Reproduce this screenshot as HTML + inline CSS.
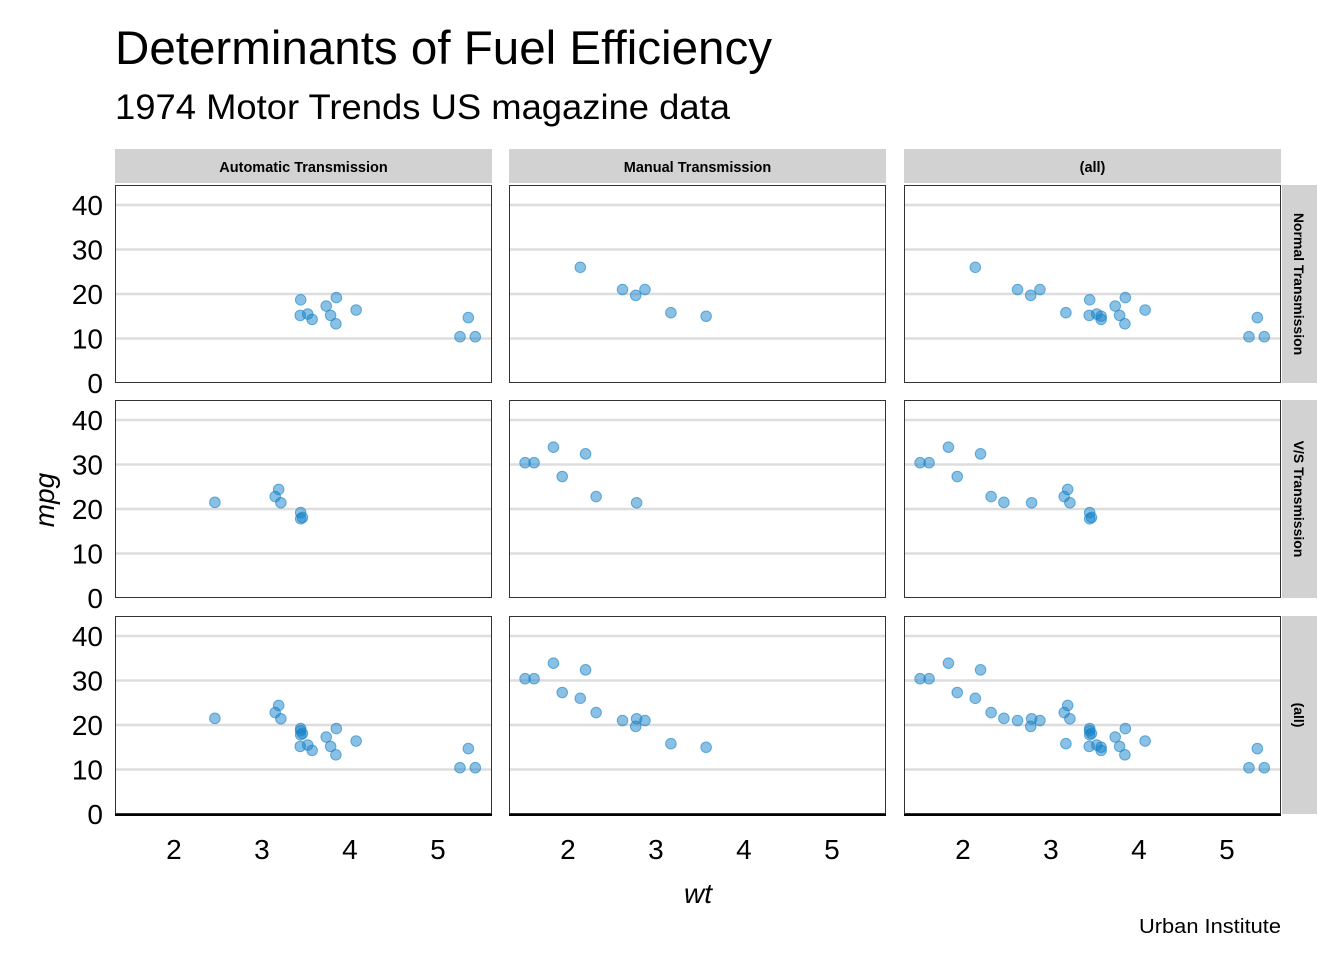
<!DOCTYPE html>
<html><head><meta charset="utf-8">
<style>
body{margin:0;background:#fff;font-family:"Liberation Sans",sans-serif;}
svg text{font-family:"Liberation Sans",sans-serif;}
</style></head>
<body>
<svg id="chart" width="1344" height="960">
<text x="115" y="64" font-size="47" textLength="657" lengthAdjust="spacingAndGlyphs" fill="#000">Determinants of Fuel Efficiency</text>
<text x="115" y="119" font-size="35" textLength="615" lengthAdjust="spacingAndGlyphs" fill="#000">1974 Motor Trends US magazine data</text>
<text x="1281" y="933" font-size="20" textLength="142" lengthAdjust="spacingAndGlyphs" text-anchor="end" fill="#000">Urban Institute</text>
<text x="698" y="903" font-size="28" font-style="italic" text-anchor="middle">wt</text>
<text transform="translate(54,500) rotate(-90)" font-size="28" font-style="italic" text-anchor="middle">mpg</text>
<g id="plots"></g>
</svg>
<script>
const wt  = [2.620,2.875,2.320,3.215,3.440,3.460,3.570,3.190,3.150,3.440,3.440,4.070,3.730,3.780,5.250,5.424,5.345,2.200,1.615,1.835,2.465,3.520,3.435,3.840,3.845,1.935,2.140,1.513,3.170,2.770,3.570,2.780];
const mpg = [21.0,21.0,22.8,21.4,18.7,18.1,14.3,24.4,22.8,19.2,17.8,16.4,17.3,15.2,10.4,10.4,14.7,32.4,30.4,33.9,21.5,15.5,15.2,13.3,19.2,27.3,26.0,30.4,15.8,19.7,15.0,21.4];
const vs  = [0,0,1,1,0,1,0,1,1,1,1,0,0,0,0,0,0,1,1,1,1,0,0,0,0,1,0,1,0,0,0,1];
const am  = [1,1,1,0,0,0,0,0,0,0,0,0,0,0,0,0,0,1,1,1,0,0,0,0,0,1,1,1,1,1,1,1];
const colLabels = ["Automatic Transmission","Manual Transmission","(all)"];
const rowLabels = ["Normal Transmission","V/S Transmission","(all)"];
const xTicks = [2,3,4,5];
const yTicks = [0,10,20,30,40];

const NS="http://www.w3.org/2000/svg";
const g=document.getElementById('plots');
function mk(tag,attrs,parent){const e=document.createElementNS(NS,tag);for(const k in attrs)e.setAttribute(k,attrs[k]);(parent||g).appendChild(e);return e;}
const colX=[115,509,904], rowY=[185,400,616], PW=377, PH=198;
const xMin=1.33,xMax=5.614,yMin=0,yMax=44.5;
function sx(c,v){return colX[c]+(v-xMin)/(xMax-xMin)*PW;}
function sy(r,v){return rowY[r]+PH-(v-yMin)/(yMax-yMin)*PH;}

for(let c=0;c<3;c++){
  const s=mk('rect',{x:colX[c],y:149,width:PW,height:34,fill:'#d2d2d2'});
  
  
  const t=mk('text',{x:colX[c]+PW/2,y:172,'font-size':14.5,'font-weight':'bold','text-anchor':'middle',fill:'#000'});
  t.textContent=colLabels[c];
  
  
}
for(let r=0;r<3;r++){
  const s=mk('rect',{x:1282,y:rowY[r],width:35,height:PH,fill:'#d2d2d2'});
  
  
  const t=mk('text',{transform:`translate(1294,${rowY[r]+PH/2}) rotate(90)`,'font-size':14,'font-weight':'bold','text-anchor':'middle',fill:'#000'});
  t.textContent=rowLabels[r];
  
  
  yTicks.forEach(v=>{
    const tl=mk('text',{x:103,y:sy(r,v)+10,'font-size':28,'text-anchor':'end',fill:'#000'});
    tl.textContent=v;
    
    
  });
}
for(let r=0;r<3;r++)for(let c=0;c<3;c++){
  yTicks.forEach(v=>{
    if(v===0)return;
    const l=mk('line',{x1:colX[c],x2:colX[c]+PW,y1:sy(r,v),y2:sy(r,v),stroke:'#dedddd','stroke-width':2.5});
    
    
  });
  for(let i=0;i<wt.length;i++){
    if(r<2 && vs[i]!==r) continue;
    if(c<2 && am[i]!==c) continue;
    const p=mk('circle',{cx:sx(c,wt[i]),cy:sy(r,mpg[i]),r:5.3,fill:'rgba(22,130,200,0.5)',stroke:'rgba(22,130,200,0.6)','stroke-width':1});
    
    
  }
  const b=mk('rect',{x:colX[c]+0.5,y:rowY[r]+0.5,width:PW-1,height:PH-1,fill:'none',stroke:'#333','stroke-width':1});
  
  
}
for(let c=0;c<3;c++){
  const a=mk('line',{x1:colX[c],x2:colX[c]+PW,y1:815,y2:815,stroke:'#000','stroke-width':2});
  
  
  xTicks.forEach(v=>{
    const tl=mk('text',{x:sx(c,v),y:859,'font-size':28,'text-anchor':'middle',fill:'#000'});
    tl.textContent=v;
    
    
  });
}
</script>
</body></html>
